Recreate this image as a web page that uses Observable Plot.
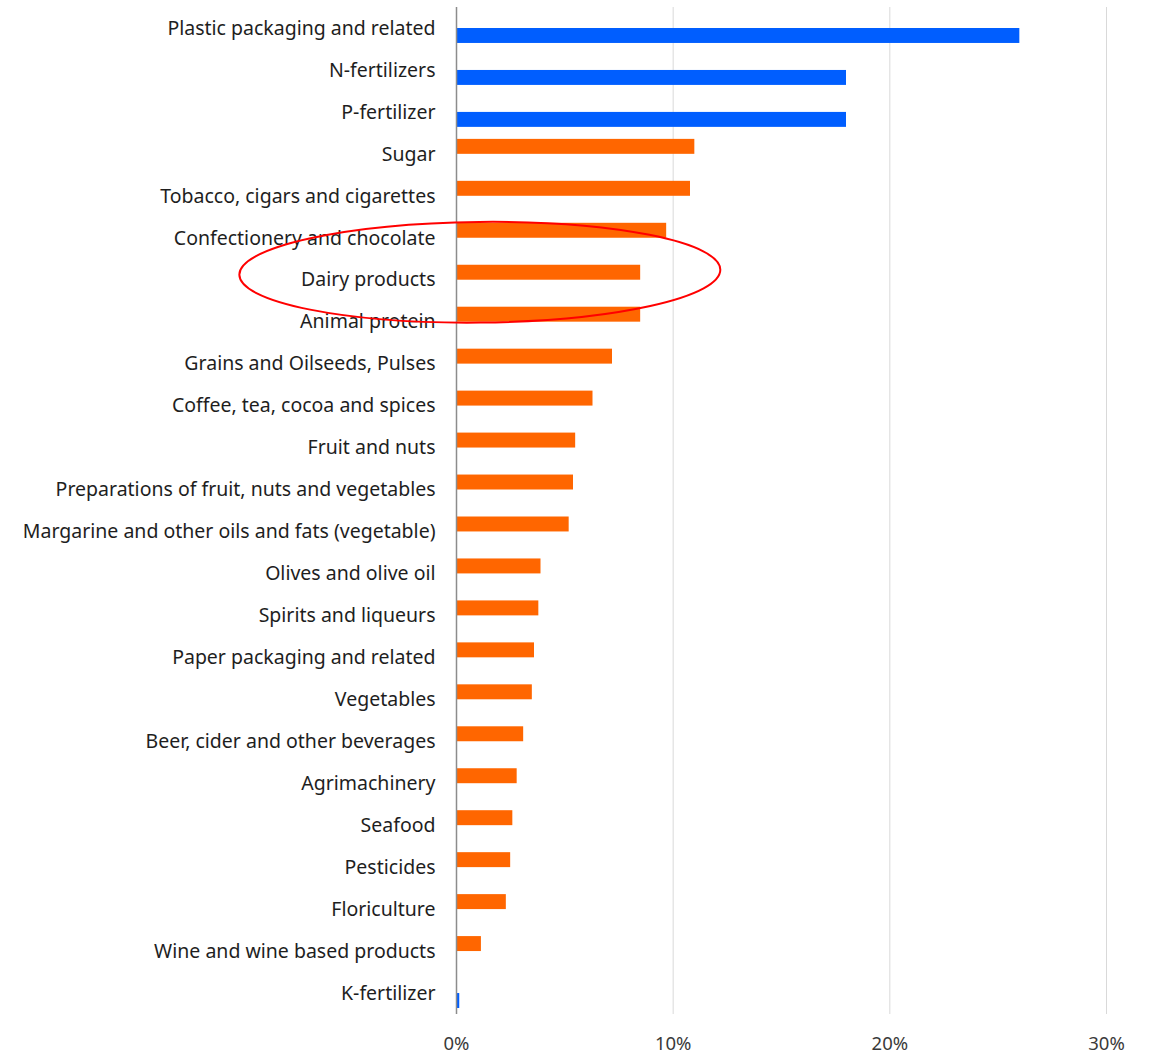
<!DOCTYPE html>
<html><head><meta charset="utf-8">
<script src="https://cdn.jsdelivr.net/npm/d3@7"></script>
<script src="https://cdn.jsdelivr.net/npm/@observablehq/plot@0.6"></script>
<style>body{margin:0;background:#fff;} #chart svg{display:block;}</style>
</head><body><div id="chart"></div>
<script>
const categories = [
  "Plastic packaging and related","N-fertilizers","P-fertilizer","Sugar",
  "Tobacco, cigars and cigarettes","Confectionery and chocolate","Dairy products",
  "Animal protein","Grains and Oilseeds, Pulses","Coffee, tea, cocoa and spices",
  "Fruit and nuts","Preparations of fruit, nuts and vegetables",
  "Margarine and other oils and fats (vegetable)","Olives and olive oil",
  "Spirits and liqueurs","Paper packaging and related","Vegetables",
  "Beer, cider and other beverages","Agrimachinery","Seafood","Pesticides",
  "Floriculture","Wine and wine based products","K-fertilizer"
];
const values = [26.0,18.0,18.0,11.0,10.8,9.7,8.5,8.5,7.2,6.3,5.5,5.4,5.2,3.9,3.8,3.6,3.5,3.1,2.8,2.6,2.5,2.3,1.15,0.15];
const seriesOf = ["Series 1","Series 1","Series 1","Series 2","Series 2","Series 2","Series 2","Series 2","Series 2","Series 2","Series 2","Series 2","Series 2","Series 2","Series 2","Series 2","Series 2","Series 2","Series 2","Series 2","Series 2","Series 2","Series 2","Series 1"];
const seriesNames = ["Series 1","Series 2"];
const seriesColors = ["#005EFF","#FF6600"];
const xTicks = [0,10,20,30];
const highlight = {category:"Dairy products", xCenter:1.1, xRadius:11.1, yRadiusBands:1.2, tilt:-0.6};

const data = categories.map((c,i)=>({category:c, value:values[i], series:seriesOf[i]}));

const plot = Plot.plot({
  width:1150, height:1054,
  marginLeft:456, marginRight:44, marginTop:7, marginBottom:40,
  x:{domain:[0,30], label:null},
  y:{domain:categories, padding:0, round:false, label:null},
  color:{domain:seriesNames, range:seriesColors},
  style:{fontFamily:"'Noto Sans', 'Open Sans', sans-serif", fontSize:"17px", color:"#222", background:"#fff"},
  marks:[
    Plot.ruleX(xTicks.slice(1), {stroke:"#d9d9d9", strokeWidth:1}),
    Plot.barX(data.filter(d=>d.series==="Series 2"), {x:"value", y:"category", fill:"series", insetTop:6, insetBottom:21}),
    Plot.barX(data.filter(d=>d.series==="Series 1"), {x:"value", y:"category", fill:"series", insetTop:21, insetBottom:6}),
    Plot.ruleX([0], {stroke:"#8c8c8c", strokeWidth:1.5}),
    Plot.axisX(xTicks, {tickSize:0, tickPadding:22, tickFormat:d=>d+"%", fill:"#3a3a3a", fontSize:18.5, label:null}),
    Plot.axisY({tickSize:0, tickPadding:21, fill:"#1e1e1e", fontSize:19.5, label:null})
  ]
});

const xs = plot.scale("x"), ys = plot.scale("y");
const bw = ys.bandwidth;
const cx = xs.apply(highlight.xCenter);
const rx = xs.apply(highlight.xCenter + highlight.xRadius) - cx;
const cy = ys.apply(highlight.category) + bw/2 - 7.5;
d3.select(plot).append("ellipse")
  .attr("cx", cx).attr("cy", cy).attr("rx", rx).attr("ry", bw*highlight.yRadiusBands)
  .attr("transform", `rotate(${highlight.tilt} ${cx} ${cy})`)
  .attr("fill","none").attr("stroke","#FF0000").attr("stroke-width",2);

document.getElementById("chart").append(plot);
</script>
</body></html>
